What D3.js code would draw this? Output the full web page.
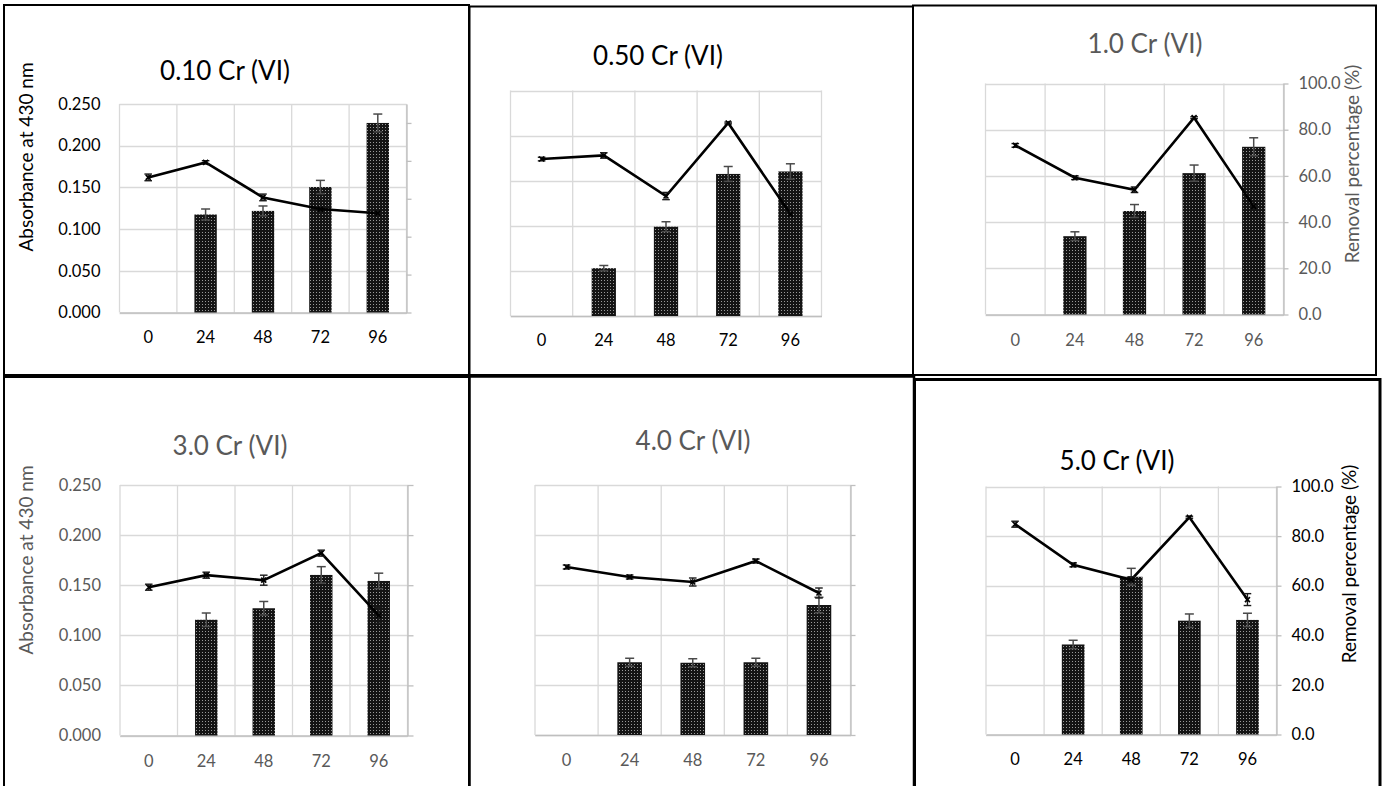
<!DOCTYPE html>
<html>
<head>
<meta charset="utf-8">
<script src="https://cdn.jsdelivr.net/npm/d3@7"></script>
<style>
  body { margin: 0; background: #fff; }
  svg { display: block; font-family: Lato, "Open Sans", sans-serif; }
</style>
</head>
<body>
<svg id="chart" width="1384" height="786"></svg>
<script>
// ---- data ----------------------------------------------------------------
const hours = ["0", "24", "48", "72", "96"];
const panelTitles = ["0.10 Cr (VI)", "0.50 Cr (VI)", "1.0 Cr (VI)", "3.0 Cr (VI)", "4.0 Cr (VI)", "5.0 Cr (VI)"];
const absTicks = [0, 0.05, 0.10, 0.15, 0.20, 0.25];
const removalTicks = [0, 20, 40, 60, 80, 100];

// Removal percentage (%) per sampling time (bars)
const removal010 = [0, 51.7, 53.6, 66.2, 100.0];
const removalErr010 = [0, 2.9, 2.6, 3.5, 4.7];
const removal050 = [0, 21.2, 39.6, 63.0, 64.1];
const removalErr050 = [0, 1.2, 2.2, 3.3, 3.4];
const removal10 = [0, 33.9, 44.8, 61.2, 72.6];
const removalErr10 = [0, 1.9, 2.8, 3.5, 3.9];
const removal30 = [0, 46.2, 50.8, 64.1, 61.7];
const removalErr30 = [0, 2.7, 2.7, 3.3, 3.1];
const removal40 = [0, 29.1, 28.9, 29.1, 52.0];
const removalErr40 = [0, 1.6, 1.6, 1.6, 3.1];
const removal50 = [0, 36.3, 63.6, 45.9, 46.2];
const removalErr50 = [0, 1.7, 3.4, 2.7, 2.7];

// Absorbance at 430 nm per sampling time (line)
const abs010 = [0.162, 0.180, 0.138, 0.124, 0.119];
const absErr010 = [0.004, 0.002, 0.004, 0.003, 0.002];
const abs050 = [0.174, 0.178, 0.133, 0.214, 0.113];
const absErr050 = [0.002, 0.003, 0.004, 0.001, 0.002];
const abs10 = [0.183, 0.148, 0.135, 0.213, 0.117];
const absErr10 = [0.002, 0.002, 0.003, 0.001, 0.002];
const abs30 = [0.148, 0.160, 0.155, 0.182, 0.120];
const absErr30 = [0.003, 0.003, 0.005, 0.003, 0.008];
const abs40 = [0.168, 0.158, 0.153, 0.174, 0.142];
const absErr40 = [0.002, 0.002, 0.004, 0.002, 0.005];
const abs50 = [0.212, 0.171, 0.156, 0.219, 0.136];
const absErr50 = [0.003, 0.002, 0.003, 0.001, 0.006];

// ---- layout of the six panels ------------------------------------------
const BLACK = "#000000", GREY = "#595959";
const TICK_FONT = 16.5, AXIS_TITLE_FONT = 19, TITLE_FONT = 26;
const panels = [
  { removal: removal010, removalErr: removalErr010, abs: abs010, absErr: absErr010, rMax: 110,
    plot: [119.5, 406.5, 104, 312.5], titleXY: [225, 70], ink: BLACK,
    leftLabels: true, leftTitleY: 157, rightTick: 5, rightLabels: false, xLabelY: 337 },
  { removal: removal050, removalErr: removalErr050, abs: abs050, absErr: absErr050, rMax: 100,
    plot: [510.5, 821.5, 90.5, 316], titleXY: [658, 55], ink: BLACK,
    leftLabels: false, rightTick: 0, rightLabels: false, xLabelY: 340 },
  { removal: removal10, removalErr: removalErr10, abs: abs10, absErr: absErr10, rMax: 100,
    plot: [985.5, 1283.5, 83.5, 314.5], titleXY: [1145, 43], ink: GREY,
    leftLabels: false, rightTick: 5, rightLabels: true, rightTitleX: 1351, rightTitleY: 164, xLabelY: 340 },
  { removal: removal30, removalErr: removalErr30, abs: abs30, absErr: absErr30, rMax: 100,
    plot: [120, 407.5, 485, 735.5], titleXY: [230, 445], ink: GREY,
    leftLabels: true, leftTitleY: 560, rightTick: 6, rightLabels: false, xLabelY: 761 },
  { removal: removal40, removalErr: removalErr40, abs: abs40, absErr: absErr40, rMax: 100,
    plot: [535, 850.5, 485, 735], titleXY: [693, 440], ink: GREY,
    leftLabels: false, rightTick: 5, rightLabels: false, xLabelY: 760 },
  { removal: removal50, removalErr: removalErr50, abs: abs50, absErr: absErr50, rMax: 100,
    plot: [986, 1276.5, 486.5, 734.5], titleXY: [1117, 460], ink: BLACK,
    leftLabels: false, rightTick: 5, rightLabels: true, rightTitleX: 1348, rightTitleY: 564, xLabelY: 759 }
];

const svg = d3.select("#chart");

// dotted fill used by the removal bars
const defs = svg.append("defs");
const pat = defs.append("pattern").attr("id", "dots")
  .attr("patternUnits", "userSpaceOnUse").attr("width", 3).attr("height", 3);
pat.append("rect").attr("width", 3).attr("height", 3).attr("fill", "#141414");
pat.append("rect").attr("x", 1).attr("y", 1).attr("width", 1).attr("height", 1).attr("fill", "#9a9a9a");

panels.forEach((p, i) => {
  const [x0, x1, y0, y1] = p.plot;
  const g = svg.append("g");
  const x = d3.scaleBand().domain(hours).range([x0, x1]);
  const yL = d3.scaleLinear().domain([0, 0.25]).range([y1, y0]);
  const yR = d3.scaleLinear().domain([0, p.rMax]).range([y1, y0]);
  const bw = x.bandwidth();
  const cx = h => x(h) + bw / 2;

  // gridlines
  g.append("g").selectAll("line").data(absTicks).join("line")
    .attr("x1", x0).attr("x2", x1)
    .attr("y1", d => Math.round(yL(d)) + 0.5).attr("y2", d => Math.round(yL(d)) + 0.5)
    .attr("stroke", "#d9d9d9").attr("stroke-width", 1.3);
  g.append("g").selectAll("line").data(hours.concat(["end"])).join("line")
    .attr("x1", d => d === "end" ? x1 : x(d)).attr("x2", d => d === "end" ? x1 : x(d))
    .attr("y1", y0).attr("y2", y1)
    .attr("stroke", "#d9d9d9").attr("stroke-width", 1.3);

  // category axis
  const xa = g.append("g").attr("transform", `translate(0,${y1})`)
    .call(d3.axisBottom(x).tickSize(0).tickPadding(p.xLabelY - y1 - 6));
  xa.select(".domain").attr("stroke", "#bfbfbf").attr("stroke-width", 1.3);
  xa.selectAll("text").attr("font-size", TICK_FONT).attr("fill", p.ink).attr("font-family", "Lato");

  // absorbance axis (left)
  if (p.leftLabels) {
    const la = g.append("g").attr("transform", `translate(${x0},0)`)
      .call(d3.axisLeft(yL).tickValues(absTicks).tickFormat(d3.format(".3f")).tickSize(0).tickPadding(19));
    la.select(".domain").remove();
    la.selectAll("text").attr("font-size", TICK_FONT).attr("fill", p.ink).attr("font-family", "Lato");
    g.append("text")
      .attr("transform", `translate(25,${p.leftTitleY}) rotate(-90)`)
      .attr("text-anchor", "middle").attr("dominant-baseline", "central")
      .attr("font-size", AXIS_TITLE_FONT).attr("fill", p.ink).text("Absorbance at 430 nm");
  }

  // removal axis (right)
  if (p.rightTick > 0) {
    const ra = g.append("g").attr("transform", `translate(${x1},0)`)
      .call(d3.axisRight(yR).tickValues(removalTicks)
        .tickFormat(p.rightLabels ? d3.format(".1f") : () => "")
        .tickSizeInner(p.rightTick).tickSizeOuter(0).tickPadding(15 - p.rightTick));
    ra.select(".domain").attr("stroke", "#bfbfbf").attr("stroke-width", 1.3);
    ra.selectAll(".tick line").attr("stroke", "#bfbfbf").attr("stroke-width", 1.3);
    ra.selectAll("text").attr("font-size", TICK_FONT).attr("fill", p.ink).attr("font-family", "Lato");
    if (p.rightLabels) {
      g.append("text")
        .attr("transform", `translate(${p.rightTitleX},${p.rightTitleY}) rotate(-90)`)
        .attr("text-anchor", "middle").attr("dominant-baseline", "central")
        .attr("font-size", AXIS_TITLE_FONT).attr("fill", p.ink).text("Removal percentage (%)");
    }
  }

  // removal bars
  const barW = bw * 0.39;
  const bars = hours.map((h, k) => ({ h, v: p.removal[k], e: p.removalErr[k] }));
  g.append("g").selectAll("rect").data(bars.filter(d => d.v > 0)).join("rect")
    .attr("x", d => cx(d.h) - barW / 2).attr("width", barW)
    .attr("y", d => yR(d.v)).attr("height", d => y1 - yR(d.v))
    .attr("fill", "url(#dots)");
  const be = g.append("g").attr("stroke", "#4a4a4a").attr("stroke-width", 1.5).attr("fill", "none");
  bars.filter(d => d.v > 0).forEach(d => {
    const xc = cx(d.h);
    be.append("line").attr("x1", xc).attr("x2", xc).attr("y1", yR(d.v - d.e)).attr("y2", yR(d.v + d.e));
    [d.v - d.e, d.v + d.e].forEach(v => be.append("line")
      .attr("x1", xc - 4.5).attr("x2", xc + 4.5).attr("y1", yR(v)).attr("y2", yR(v)));
  });

  // absorbance line
  const pts = hours.map((h, k) => ({ h, v: p.abs[k], e: p.absErr[k] }));
  g.append("path").datum(pts)
    .attr("d", d3.line().x(d => cx(d.h)).y(d => yL(d.v)))
    .attr("fill", "none").attr("stroke", "#000").attr("stroke-width", 2.6)
    .attr("stroke-linejoin", "miter");
  const le = g.append("g").attr("stroke", "#1a1a1a").attr("stroke-width", 1.4).attr("fill", "none");
  pts.forEach(d => {
    const xc = cx(d.h);
    le.append("line").attr("x1", xc).attr("x2", xc).attr("y1", yL(d.v - d.e)).attr("y2", yL(d.v + d.e));
    [d.v - d.e, d.v + d.e].forEach(v => le.append("line")
      .attr("x1", xc - 3.8).attr("x2", xc + 3.8).attr("y1", yL(v)).attr("y2", yL(v)));
    le.append("path")
      .attr("d", `M${xc - 2.5},${yL(d.v) - 2.5}L${xc + 2.5},${yL(d.v) + 2.5}M${xc - 2.5},${yL(d.v) + 2.5}L${xc + 2.5},${yL(d.v) - 2.5}`)
      .attr("stroke", "#000").attr("stroke-width", 1.6);
  });

  // panel title
  g.append("text").attr("x", p.titleXY[0]).attr("y", p.titleXY[1])
    .attr("text-anchor", "middle").attr("dominant-baseline", "central")
    .attr("font-size", TITLE_FONT).attr("fill", p.ink).text(panelTitles[i]);
});

// panel frames
const frames = svg.append("g").attr("fill", "none").attr("stroke", "#000");
[
  [4, 5, 469, 375, 2],
  [469.5, 6.5, 913, 375, 2],
  [913, 5.5, 1376, 375, 2],
  [4, 377, 469, 800, 2],
  [469.5, 376.5, 914, 800, 2.5],
  [914.5, 379.5, 1380, 800, 3]
].forEach(([a, b, c, d, w]) => frames.append("rect")
  .attr("x", a).attr("y", b).attr("width", c - a).attr("height", d - b).attr("stroke-width", w));
</script>
</body>
</html>
